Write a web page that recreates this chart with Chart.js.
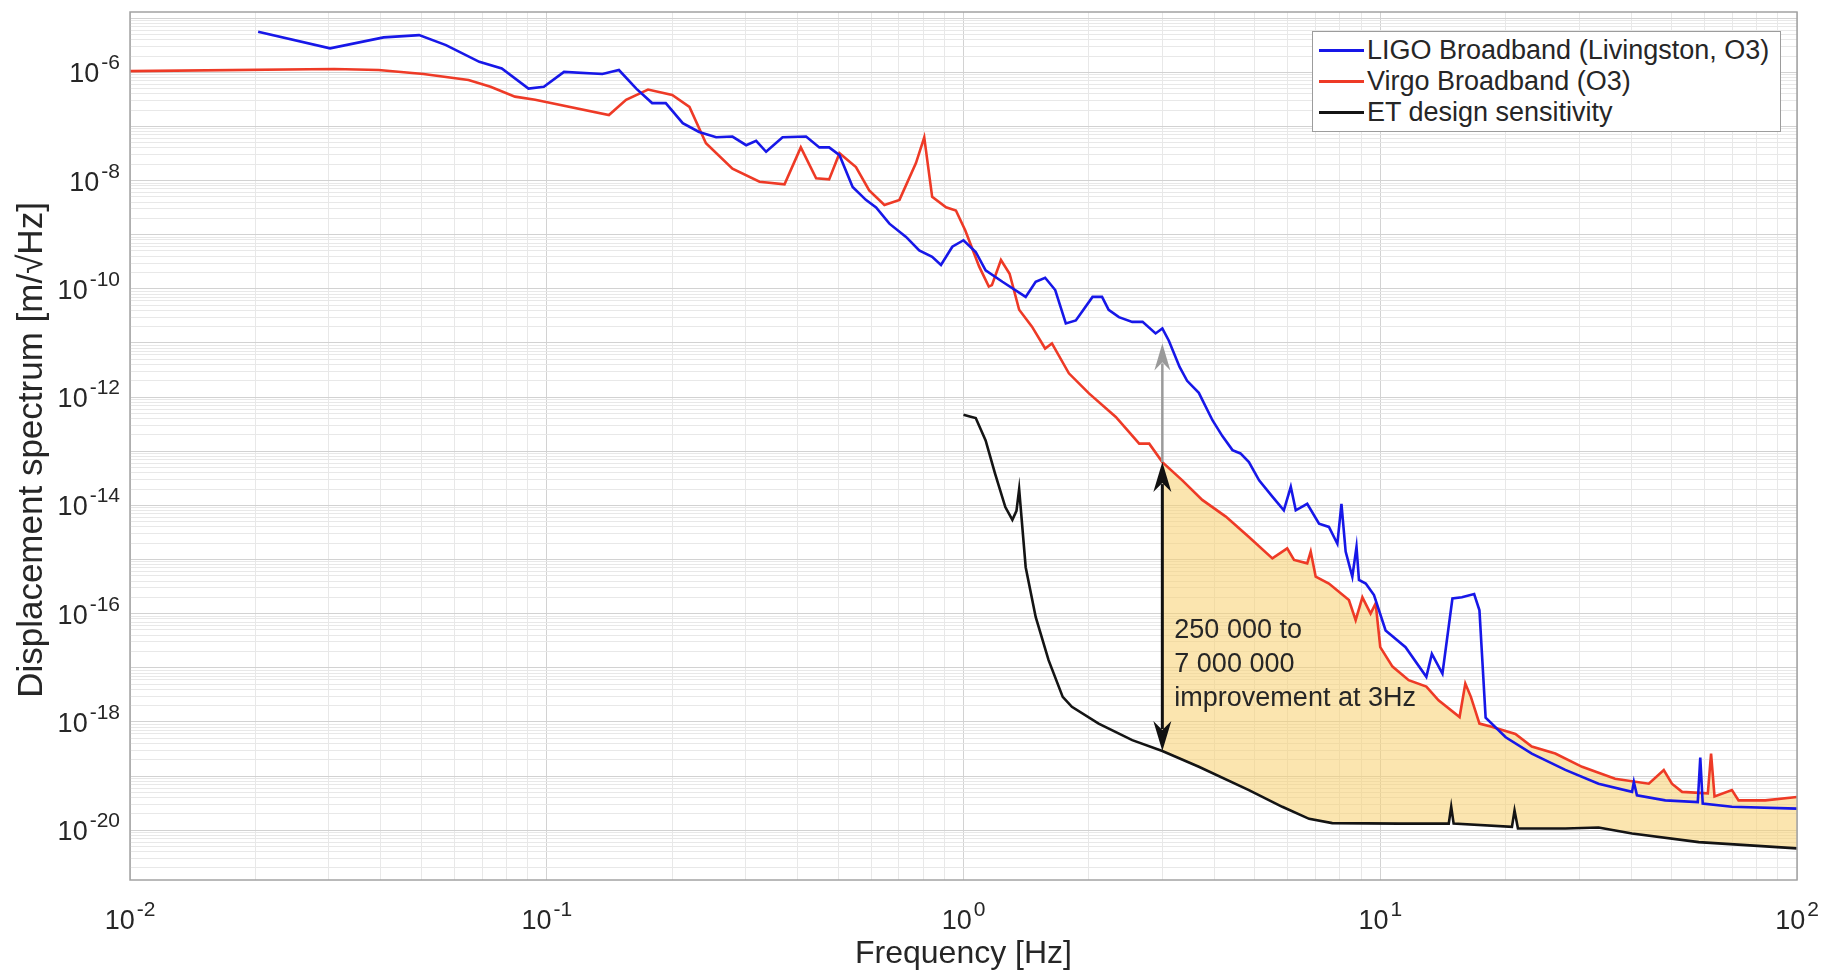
<!DOCTYPE html>
<html>
<head>
<meta charset="utf-8">
<title>Displacement spectrum</title>
<script src="https://cdn.jsdelivr.net/npm/chart.js@4.4.1/dist/chart.umd.min.js"></script>
<style>
  html, body { margin: 0; padding: 0; background: #fff; }
  #wrap { position: relative; width: 1825px; height: 973px; }
  #legend {
    position: absolute; left: 1312px; top: 31px; width: 467px; height: 96px;
    padding-top: 3px; border: 1px solid #9c9c9c; background: #fff;
    font-family: "Liberation Sans", Arial, sans-serif; font-size: 27px; color: #262626;
  }
  #legend .item { display: flex; align-items: center; height: 31px; white-space: nowrap; }
  #legend .swatch { width: 45px; height: 3px; margin-left: 6px; margin-right: 3px; }
</style>
</head>
<body>
<div id="wrap">
  <canvas id="chart" width="1825" height="973"></canvas>
  <div id="legend"></div>
</div>
<script>
// =========================
// Data
// =========================
const xRange = [1e-2, 1e2];
const yRange = [1.2e-21, 1.3e-5];
const xTickExps = [-2, -1, 0, 1, 2];
const yTickExps = [-20, -18, -16, -14, -12, -10, -8, -6];

// [frequency Hz, displacement m/sqrt(Hz)]
const ligoPoints = [
  [0.0203, 5.6e-6], [0.0302, 2.77e-6], [0.0406, 4.42e-6], [0.0494, 4.86e-6], [0.0573, 3.18e-6],
  [0.0689, 1.56e-6], [0.078, 1.18e-6], [0.0904, 5.0e-7], [0.0984, 5.4e-7], [0.110, 1.02e-6],
  [0.136, 9.3e-7], [0.149, 1.1e-6], [0.164, 5.0e-7], [0.179, 2.7e-7], [0.193, 2.7e-7],
  [0.212, 1.15e-7], [0.232, 7.9e-8], [0.255, 6.3e-8], [0.279, 6.5e-8], [0.301, 4.5e-8],
  [0.318, 5.4e-8], [0.336, 3.4e-8], [0.368, 6.3e-8], [0.419, 6.5e-8], [0.451, 4.1e-8],
  [0.476, 4.1e-8], [0.504, 2.95e-8], [0.542, 7.6e-9], [0.583, 4.4e-9], [0.617, 3.2e-9],
  [0.664, 1.6e-9], [0.728, 9.1e-10], [0.783, 5.1e-10], [0.841, 3.9e-10], [0.883, 2.75e-10],
  [0.940, 6.0e-10], [1.00, 7.9e-10], [1.07, 4.8e-10], [1.13, 2.2e-10], [1.24, 1.35e-10],
  [1.41, 7.1e-11], [1.49, 1.35e-10], [1.57, 1.6e-10], [1.66, 9.5e-11], [1.76, 2.3e-11],
  [1.86, 2.6e-11], [2.04, 7.1e-11], [2.15, 7.1e-11], [2.23, 4.1e-11], [2.36, 3.0e-11],
  [2.54, 2.45e-11], [2.69, 2.45e-11], [2.89, 1.5e-11], [3.00, 1.85e-11], [3.11, 1.1e-11],
  [3.30, 3.6e-12], [3.44, 2.0e-12], [3.67, 1.2e-12], [3.96, 3.7e-13], [4.18, 1.9e-13],
  [4.42, 1.05e-13], [4.62, 9.1e-14], [4.84, 6.3e-14], [5.12, 2.9e-14], [5.51, 1.45e-14],
  [5.87, 8.1e-15], [6.10, 2.2e-14], [6.27, 8.1e-15], [6.68, 1.07e-14], [7.13, 4.6e-15],
  [7.53, 4.0e-15], [7.89, 1.95e-15], [8.07, 1.07e-14], [8.26, 1.4e-15], [8.57, 4.8e-16],
  [8.77, 1.7e-15], [8.89, 4.2e-16], [9.23, 3.6e-16], [9.66, 2.2e-16], [10.3, 4.9e-17],
  [11.5, 2.4e-17], [12.9, 6.8e-18], [13.3, 1.8e-17], [14.1, 7.8e-18], [14.9, 1.9e-16],
  [15.7, 2.0e-16], [16.8, 2.3e-16], [17.3, 1.15e-16], [17.9, 1.2e-18], [20.0, 5.2e-19],
  [23.1, 2.6e-19], [27.8, 1.3e-19], [33.4, 7.2e-20], [40.2, 5.1e-20], [40.6, 7.8e-20],
  [41.3, 4.4e-20], [48.3, 3.55e-20], [57.8, 3.3e-20], [58.6, 2.2e-19], [59.4, 3.1e-20],
  [69.8, 2.7e-20], [100, 2.5e-20]
];

const virgoPoints = [
  [0.01, 1.05e-6], [0.0309, 1.15e-6], [0.0395, 1.10e-6], [0.0506, 9.3e-7], [0.0649, 7.2e-7],
  [0.0733, 5.4e-7], [0.0839, 3.55e-7], [0.0938, 3.1e-7], [0.141, 1.62e-7], [0.155, 3.1e-7],
  [0.175, 4.8e-7], [0.200, 3.8e-7], [0.220, 2.3e-7], [0.241, 4.9e-8], [0.279, 1.66e-8],
  [0.324, 9.5e-9], [0.372, 8.5e-9], [0.407, 4.1e-8], [0.443, 1.1e-8], [0.476, 1.05e-8],
  [0.504, 3.2e-8], [0.552, 1.78e-8], [0.594, 6.6e-9], [0.646, 3.55e-9], [0.702, 4.4e-9],
  [0.769, 2.1e-8], [0.805, 6.3e-8], [0.841, 5.0e-9], [0.908, 3.2e-9], [0.959, 2.8e-9],
  [1.01, 1.2e-9], [1.09, 2.6e-10], [1.15, 1.1e-10], [1.17, 1.17e-10], [1.23, 3.4e-10],
  [1.29, 1.9e-10], [1.36, 4.1e-11], [1.46, 2.0e-11], [1.57, 7.9e-12], [1.63, 9.8e-12],
  [1.79, 2.75e-12], [2.00, 1.17e-12], [2.32, 4.3e-13], [2.64, 1.38e-13], [2.79, 1.38e-13],
  [3.00, 6.3e-14], [3.35, 2.9e-14], [3.74, 1.26e-14], [4.26, 6.2e-15], [4.84, 2.6e-15],
  [5.51, 1.05e-15], [5.98, 1.6e-15], [6.21, 9.8e-16], [6.68, 8.5e-16], [6.81, 1.4e-15],
  [7.00, 4.8e-16], [7.53, 3.6e-16], [8.41, 1.78e-16], [8.73, 7.6e-17], [9.06, 2.0e-16],
  [9.48, 1.0e-16], [9.75, 1.55e-16], [10.0, 2.4e-17], [10.7, 1.05e-17], [11.7, 5.9e-18],
  [12.9, 4.5e-18], [13.8, 2.5e-18], [15.5, 1.23e-18], [16.0, 5.1e-18], [16.5, 2.9e-18],
  [17.3, 9.3e-19], [18.5, 8.1e-19], [21.1, 6.0e-19], [23.1, 3.5e-19], [26.3, 2.6e-19],
  [30.5, 1.48e-19], [36.6, 8.9e-20], [44.1, 7.2e-20], [47.9, 1.29e-19], [50.1, 7.2e-20],
  [53.0, 5.1e-20], [61.1, 4.8e-20], [62.2, 2.6e-19], [63.4, 4.2e-20], [69.8, 5.5e-20],
  [72.4, 3.55e-20], [83.9, 3.55e-20], [100, 4.1e-20]
];

const etPoints = [
  [1.00, 4.7e-13], [1.035, 4.4e-13], [1.07, 4.1e-13], [1.13, 1.58e-13], [1.19, 3.9e-14],
  [1.26, 9.3e-15], [1.31, 5.4e-15], [1.34, 7.9e-15], [1.36, 2.0e-14], [1.41, 7.2e-16],
  [1.49, 8.7e-17], [1.60, 1.38e-17], [1.73, 2.9e-18], [1.82, 1.9e-18], [2.11, 9.3e-19],
  [2.54, 4.6e-19], [3.00, 2.9e-19], [3.67, 1.48e-19], [4.84, 5.5e-20], [5.82, 2.7e-20],
  [6.75, 1.62e-20], [7.67, 1.35e-20], [11.1, 1.32e-20], [14.6, 1.32e-20], [14.8, 2.7e-20],
  [15.0, 1.32e-20], [20.7, 1.15e-20], [21.0, 2.3e-20], [21.4, 1.07e-20], [27.8, 1.07e-20],
  [33.4, 1.12e-20], [40.2, 8.7e-21], [58.1, 6.0e-21], [100, 4.6e-21]
];

// annotation at 3 Hz
const noteFreq = 3;
const noteLigo = 9.8e-12;
const noteVirgo = 6.3e-14;
const noteEt = 2.9e-19;
const noteAnchor = 3.6e-17;
const noteLines = ["250 000 to", "7 000 000", "improvement at 3Hz"];

// =========================
// Styles
// =========================
const FONT = '"Liberation Sans", Arial, sans-serif';
const TEXT = "#262626";
const GRID_MAJOR = "#d2d2d2";
const GRID_MINOR = "#e8e8e8";

const SERIES = [
  { label: "LIGO Broadband (Livingston, O3)", points: ligoPoints, color: "#1717e8" },
  { label: "Virgo Broadband (O3)", points: virgoPoints, color: "#ee3a26" },
  { label: "ET design sensitivity", points: etPoints, color: "#141414" }
];

const toXY = (pts) => pts.map(([x, y]) => ({ x, y }));

// yellow region between Virgo and ET from 3 Hz upward
const fillPolygon = virgoPoints.filter((p) => p[0] >= noteFreq)
  .concat(etPoints.filter((p) => p[0] >= noteFreq).reverse());

// every 1..9 x 10^n inside the range; decades are major
function logTicks(min, max) {
  const ticks = [];
  const e0 = Math.floor(Math.log10(min));
  const e1 = Math.ceil(Math.log10(max));
  for (let e = e0; e <= e1; e++) {
    for (let m = 1; m <= 9; m++) {
      const v = m * Math.pow(10, e);
      if (v >= min * 0.999 && v <= max * 1.001) ticks.push({ value: v, major: m === 1 });
    }
  }
  return ticks;
}

// "10" with a raised exponent
function drawPow(ctx, exp, x, y, align) {
  const base = `27px ${FONT}`;
  const sup = `21px ${FONT}`;
  const e = String(exp);
  ctx.font = base;
  const w1 = ctx.measureText("10").width;
  ctx.font = sup;
  const w2 = ctx.measureText(e).width;
  const x0 = align === "right" ? x - w1 - w2 - 2 : x - (w1 + w2 + 2) / 2;
  ctx.textAlign = "left";
  ctx.textBaseline = "alphabetic";
  ctx.fillStyle = TEXT;
  ctx.font = base;
  ctx.fillText("10", x0, y);
  ctx.font = sup;
  ctx.fillText(e, x0 + w1 + 2, y - 13);
}

function arrowHead(ctx, x, yTip, len, wid) {
  // pointing up (len > 0) or down (len < 0)
  ctx.beginPath();
  ctx.moveTo(x, yTip);
  ctx.lineTo(x - wid / 2, yTip + len);
  ctx.lineTo(x, yTip + len * 0.7);
  ctx.lineTo(x + wid / 2, yTip + len);
  ctx.closePath();
  ctx.fill();
}

// =========================
// Plugins
// =========================
const frameAndLabels = {
  id: "frameAndLabels",
  afterDraw(chart) {
    const { ctx, chartArea: a, scales } = chart;
    const xs = scales.x, ys = scales.y;
    ctx.save();

    // box
    ctx.strokeStyle = "#a3a3a3";
    ctx.lineWidth = 1.5;
    ctx.strokeRect(a.left, a.top, a.right - a.left, a.bottom - a.top);

    // tick labels
    xTickExps.forEach((e) => drawPow(ctx, e, xs.getPixelForValue(Math.pow(10, e)), a.bottom + 49, "center"));
    yTickExps.forEach((e) => drawPow(ctx, e, a.left - 10, ys.getPixelForValue(Math.pow(10, e)) + 10, "right"));

    // y title
    ctx.translate(32, (a.top + a.bottom) / 2 + 4);
    ctx.rotate(-Math.PI / 2);
    ctx.textAlign = "center";
    ctx.textBaseline = "middle";
    ctx.fillStyle = TEXT;
    ctx.font = `35px ${FONT}`;
    ctx.fillText("Displacement spectrum [m/\u221AHz]", 0, 0);
    ctx.restore();
  }
};

const improvementNote = {
  id: "improvementNote",
  afterDatasetsDraw(chart) {
    const { ctx, scales } = chart;
    const x = scales.x.getPixelForValue(noteFreq);
    const yL = scales.y.getPixelForValue(noteLigo);
    const yV = scales.y.getPixelForValue(noteVirgo);
    const yE = scales.y.getPixelForValue(noteEt);
    ctx.save();

    // grey arrow: Virgo -> LIGO
    ctx.strokeStyle = "#9a9a9a";
    ctx.fillStyle = "#9a9a9a";
    ctx.lineWidth = 2.5;
    ctx.beginPath();
    ctx.moveTo(x, yV);
    ctx.lineTo(x, yL + 20);
    ctx.stroke();
    arrowHead(ctx, x, yL, 27, 16);

    // black double arrow: ET <-> Virgo
    ctx.strokeStyle = "#111";
    ctx.fillStyle = "#111";
    ctx.lineWidth = 3;
    ctx.beginPath();
    ctx.moveTo(x, yV + 22);
    ctx.lineTo(x, yE - 22);
    ctx.stroke();
    arrowHead(ctx, x, yV, 30, 18);
    arrowHead(ctx, x, yE, -30, 18);

    // text
    const y0 = scales.y.getPixelForValue(noteAnchor);
    ctx.fillStyle = TEXT;
    ctx.font = `27px ${FONT}`;
    ctx.textAlign = "left";
    ctx.textBaseline = "alphabetic";
    noteLines.forEach((t, i) => ctx.fillText(t, x + 12, y0 + i * 34));
    ctx.restore();
  }
};

// =========================
// Chart
// =========================
const datasets = SERIES.map((s) => ({
  label: s.label,
  data: toXY(s.points),
  borderColor: s.color,
  backgroundColor: s.color,
  borderWidth: 2.6,
  pointRadius: 0,
  tension: 0,
  fill: false
}));

datasets.push({
  label: "",
  data: toXY(fillPolygon),
  borderWidth: 0,
  borderColor: "rgba(0,0,0,0)",
  backgroundColor: "rgba(247, 208, 110, 0.55)",
  pointRadius: 0,
  tension: 0,
  fill: "shape"
});

const gridColor = (c) => (c.tick && c.tick.major ? GRID_MAJOR : GRID_MINOR);

const chart = new Chart(document.getElementById("chart").getContext("2d"), {
  type: "line",
  data: { datasets },
  options: {
    responsive: false,
    devicePixelRatio: 1,
    animation: false,
    layout: { padding: { top: 12, right: 28, bottom: 0, left: 0 } },
    plugins: { legend: { display: false }, tooltip: { enabled: false } },
    scales: {
      x: {
        type: "logarithmic",
        min: xRange[0],
        max: xRange[1],
        afterBuildTicks: (s) => { s.ticks = logTicks(xRange[0], xRange[1]); },
        afterFit: (s) => { s.height = 93; },
        ticks: { display: false, autoSkip: false },
        grid: { color: gridColor, lineWidth: 1, drawTicks: false },
        border: { display: false },
        title: {
          display: true,
          text: "Frequency [Hz]",
          color: TEXT,
          font: { family: FONT, size: 32 },
          padding: { top: 0, bottom: 0 }
        }
      },
      y: {
        type: "logarithmic",
        min: yRange[0],
        max: yRange[1],
        afterBuildTicks: (s) => { s.ticks = logTicks(yRange[0], yRange[1]); },
        afterFit: (s) => { s.width = 130; },
        ticks: { display: false, autoSkip: false },
        grid: { color: gridColor, lineWidth: 1, drawTicks: false },
        border: { display: false }
      }
    }
  },
  plugins: [improvementNote, frameAndLabels]
});

// legend inside the axes, built from the datasets
const legend = document.getElementById("legend");
chart.data.datasets.filter((d) => d.label).forEach((d) => {
  const row = document.createElement("div");
  row.className = "item";
  row.innerHTML = `<span class="swatch" style="background:${d.borderColor}"></span><span>${d.label}</span>`;
  legend.appendChild(row);
});
</script>
</body>
</html>
